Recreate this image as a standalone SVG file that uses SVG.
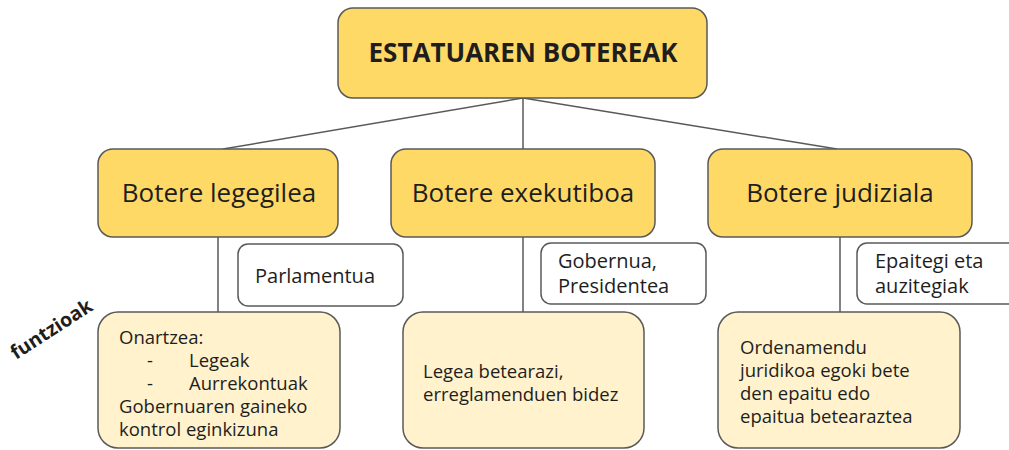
<svg xmlns="http://www.w3.org/2000/svg" width="1009" height="450" viewBox="0 0 1009 450">
<style>
.box{stroke:#595959;stroke-width:1.5}
.y{fill:#ffd966}
.w{fill:#ffffff}
.l{fill:#fff2cc}
.conn{stroke:#595959;stroke-width:1.5;fill:none}
text{font-family:"Open Sans","Noto Sans","DejaVu Sans",sans-serif;fill:#1e1e1e}
.t1{font-size:26px;font-weight:bold;text-anchor:middle}
.t2{font-size:26px;text-anchor:middle}
.t3{font-size:20px}
.t4{font-size:18.5px}
</style>
<rect width="1009" height="450" fill="#ffffff"/>
<g id="connectors">
<line class="conn" x1="523" y1="98" x2="523" y2="149"/>
<line class="conn" x1="523" y1="98" x2="223" y2="149"/>
<line class="conn" x1="523" y1="98" x2="837" y2="149"/>
<line class="conn" x1="218" y1="237" x2="218" y2="312"/>
<line class="conn" x1="523" y1="237" x2="523" y2="312"/>
<line class="conn" x1="840" y1="237" x2="840" y2="312"/>
</g>
<g id="root">
<rect class="box y" x="338" y="8" width="369" height="90" rx="15"/>
<text class="t1" x="523" y="62">ESTATUAREN BOTEREAK</text>
</g>
<g id="legegilea">
<rect class="box y" x="98" y="149" width="240" height="88" rx="15"/>
<text class="t2" x="219" y="202">Botere legegilea</text>
</g>
<g id="exekutiboa">
<rect class="box y" x="391" y="149" width="264" height="88" rx="15"/>
<text class="t2" x="523" y="202">Botere exekutiboa</text>
</g>
<g id="judiziala">
<rect class="box y" x="708" y="149" width="264" height="88" rx="15"/>
<text class="t2" x="840" y="202">Botere judiziala</text>
</g>
<g id="parlamentua">
<rect class="box w" x="238" y="244" width="165" height="62" rx="10"/>
<text class="t3" x="255" y="283">Parlamentua</text>
</g>
<g id="gobernua">
<rect class="box w" x="541" y="243" width="165" height="61" rx="10"/>
<text class="t3" x="558" y="268">Gobernua,</text>
<text class="t3" x="558" y="293">Presidentea</text>
</g>
<g id="epaitegi">
<rect class="box w" x="857" y="243" width="165" height="61" rx="10"/>
<text class="t3" x="875" y="268">Epaitegi eta</text>
<text class="t3" x="875" y="293">auzitegiak</text>
</g>
<g id="funtzioak-label">
<text x="16" y="360" transform="rotate(-33 16 360)" style="font-size:19.5px;font-weight:bold">funtzioak</text>
</g>
<g id="funtzio-legegilea">
<rect class="box l" x="98" y="312" width="242" height="136" rx="20"/>
<text class="t4" x="119" y="344">Onartzea:</text>
<text class="t4" x="147" y="367">-</text>
<text class="t4" x="189" y="367">Legeak</text>
<text class="t4" x="147" y="390">-</text>
<text class="t4" x="189" y="390">Aurrekontuak</text>
<text class="t4" x="119" y="413">Gobernuaren gaineko</text>
<text class="t4" x="119" y="436">kontrol eginkizuna</text>
</g>
<g id="funtzio-exekutiboa">
<rect class="box l" x="403" y="312" width="241" height="136" rx="20"/>
<text class="t4" x="423" y="378">Legea betearazi,</text>
<text class="t4" x="423" y="401">erreglamenduen bidez</text>
</g>
<g id="funtzio-judiziala">
<rect class="box l" x="718" y="312" width="242" height="136" rx="20"/>
<text class="t4" x="740" y="354">Ordenamendu</text>
<text class="t4" x="740" y="377">juridikoa egoki bete</text>
<text class="t4" x="740" y="400">den epaitu edo</text>
<text class="t4" x="740" y="423">epaitua betearaztea</text>
</g>
</svg>
